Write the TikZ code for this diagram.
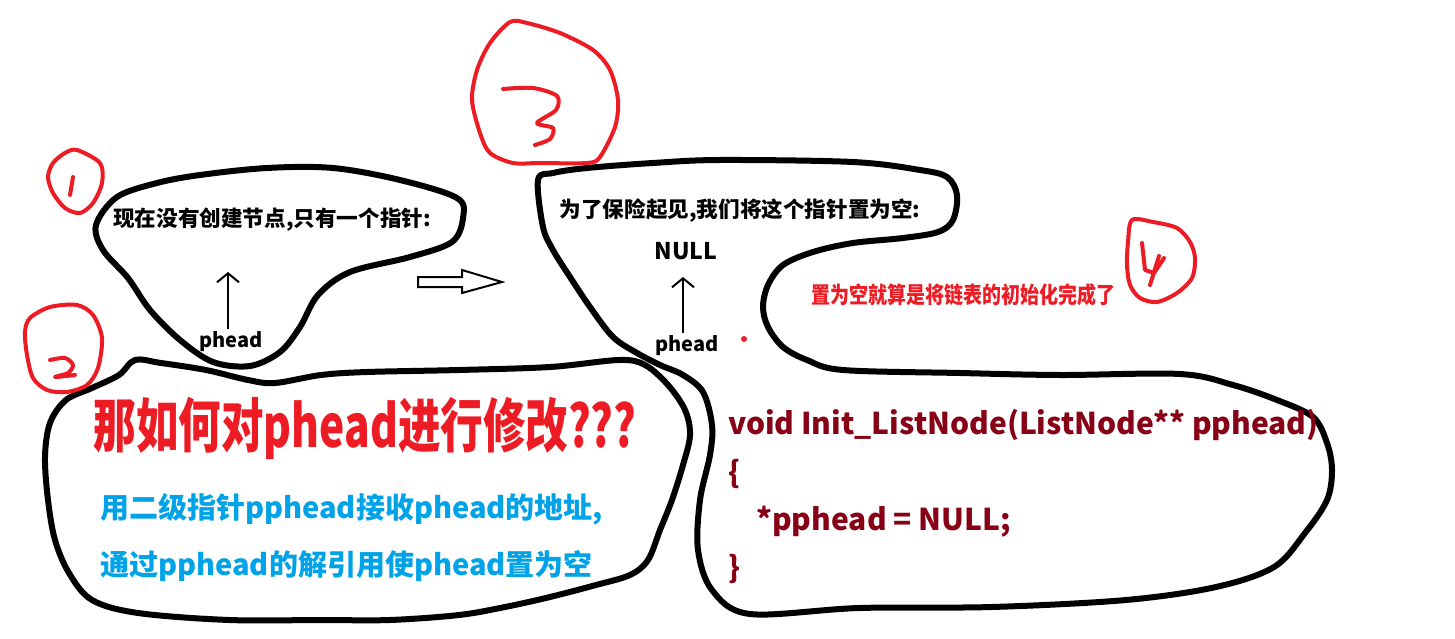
\documentclass[tikz,border=0pt]{standalone}
\usepackage{fontspec}
\setmainfont{Noto Sans CJK SC}
\usepackage{tikz}
\usetikzlibrary{arrows.meta,positioning}
\definecolor{paintred}{HTML}{ED1C24}
\definecolor{paintblue}{HTML}{00A2E8}
\definecolor{codered}{HTML}{880015}
\tikzset{
  blob/.style={draw=black, line width=6pt, line join=round, line cap=round},
  ring/.style={draw=paintred, line width=4pt, line join=round, line cap=round},
  note/.style={font=\fontsize{21.6}{24}\selectfont\bfseries, inner sep=0pt},
  ptrname/.style={font=\fontsize{20}{24}\selectfont\bfseries, inner sep=0pt},
  ptr/.style={-{Straight Barb[length=9pt,width=22pt]}, line width=2pt, shorten <=3pt},
  hollow/.style={draw=black, line width=2pt, line join=miter},
  asktitle/.style={text=paintred, font=\fontsize{42.5}{48}\selectfont\bfseries, inner sep=0pt},
  howto/.style={text=paintblue, font=\fontsize{29}{34}\selectfont\bfseries, inner sep=0pt,
    anchor=west, text height=0.8em, text depth=0.2em},
  sayred/.style={text=paintred, font=\fontsize{19}{22}\selectfont\bfseries, inner sep=0pt},
  code/.style={text=codered, font=\fontsize{30}{34}\selectfont\bfseries, inner sep=0pt,
    anchor=west, text height=0.75em, text depth=0.25em},
}
\begin{document}
\begin{tikzpicture}[x=1pt, y=-1pt]
  \useasboundingbox (0,0) rectangle (1455,639);
  % blobs
  \draw[blob] plot[smooth cycle, tension=0.55] coordinates {(96,225) (117,197) (157,183) (200,175)
    (267,168) (333,168) (400,180) (457,198) (463,218) (452,242) (410,257) (350,272) (318,295)
    (300,327) (280,352) (250,366) (213,362) (180,340) (150,310) (128,278) (103,250)};
  \draw[blob] plot[smooth cycle, tension=0.55] coordinates {(135,360) (161,363) (206,370) (248,380)
    (275,383) (321,375) (367,372) (459,370) (550,367) (619,360) (645,365) (668,385) (685,410)
    (690,435) (683,465) (672,500) (660,530) (648,560) (630,575) (596,585) (550,597) (505,607)
    (459,615) (390,620) (321,620) (229,620) (138,613) (92,600) (69,573) (55,540) (48,500)
    (45,457) (50,423) (66,400) (92,388) (119,375)};
  \draw[blob] plot[smooth cycle, tension=0.55] coordinates {(538,180) (553,173) (587,168) (653,163)
    (720,160) (853,162) (920,170) (947,177) (957,195) (953,220) (938,232) (903,238) (853,243)
    (813,252) (783,265) (768,285) (763,307) (768,327) (783,347) (807,360) (843,370) (960,373)
    (1060,375) (1180,374) (1233,385) (1277,400) (1313,417) (1327,443) (1332,470) (1327,500)
    (1305,533) (1274,567) (1216,587) (1126,600) (992,607) (859,608) (750,614) (712,590)
    (698,550) (700,500) (710,455) (712,425) (703,392) (683,375) (660,365) (637,353) (613,337)
    (590,307) (570,277) (553,250) (543,227)};
  % numbers
  \draw[ring] plot[smooth cycle] coordinates {(77,150) (100,163) (102,183) (93,203) (80,213)
    (65,208) (53,193) (48,177) (53,163) (65,153)};
  \draw[ring] (73,177) -- (70,195);
  \draw[ring] plot[smooth cycle] coordinates {(30,318) (50,307) (77,305) (93,315) (102,338)
    (98,368) (87,385) (67,392) (47,390) (33,378) (27,355) (25,332)};
  \draw[ring] plot[smooth] coordinates {(50,360) (65,358) (73,365) (68,373) (55,377) (75,375)};
  \draw[ring] plot[smooth cycle] coordinates {(510,22) (527,23) (560,33) (593,50) (610,70)
    (618,100) (615,127) (600,157) (587,163) (540,163) (513,163) (490,153) (480,133) (472,100)
    (477,70) (490,43)};
  \draw[ring] plot[smooth] coordinates {(503,89) (533,88) (557,96) (556,110) (537,123) (553,128)
    (550,139) (535,145)};
  \draw[ring] plot[smooth cycle] coordinates {(1132,220) (1153,222) (1177,228) (1190,242)
    (1195,258) (1192,278) (1177,293) (1157,302) (1140,298) (1130,285) (1127,265) (1128,242)};
  \draw[ring] (1142,243) -- (1145,270) -- (1154,273) -- (1164,258);
  \draw[ring] (1159,256) -- (1150,285);
  % step 1
  \node[note] (nowtxt) at (272,220) {现在没有创建节点,只有一个指针:};
  \node[ptrname] (pheadA) at (231,342) {phead};
  \coordinate (tipA) at (228,272);
  \draw[ptr] (pheadA.north -| tipA) -- (tipA);
  \draw[hollow] (418,277) -- (462,277) -- (462,270) -- (502,282) -- (462,293) -- (462,287)
    -- (418,287) -- cycle;
  % step 2
  \node[asktitle] (askhow) at (365,428) {\scalebox{1}[1.38]{那如何对phead进行修改???}};
  \node[howto] (howA) at (100,515) {用二级指针pphead接收phead的地址,};
  \node[howto, below=57pt of howA.west, anchor=west] (howB) {通过pphead的解引用使phead置为空};
  % step 3
  \node[note] (safetxt) at (740,211) {为了保险起见,我们将这个指针置为空:};
  \node[note, font=\fontsize{23}{26}\selectfont\bfseries] (nullB) at (686,251) {NULL};
  \node[ptrname] (pheadB) at (687,346) {phead};
  \coordinate (tipB) at (683,277);
  \draw[ptr] (pheadB.north -| tipB) -- (tipB);
  \fill[paintred] (744,339) circle (3pt);
  \node[sayred] (initdone) at (963,295) {\scalebox{1}[1.2]{置为空就算是将链表的初始化完成了}};
  % code
  \node[code] (sigline) at (728,432) {void Init\_ListNode(ListNode** pphead)};
  \node[code, below=49pt of sigline.west, anchor=west] (openbr) {\{};
  \node[code, below=47pt of openbr.west, anchor=west, xshift=28pt] (setnull) {*pphead = NULL;};
  \node[code, below=95pt of openbr.west, anchor=west] (closebr) {\}};
\end{tikzpicture}
\end{document}
